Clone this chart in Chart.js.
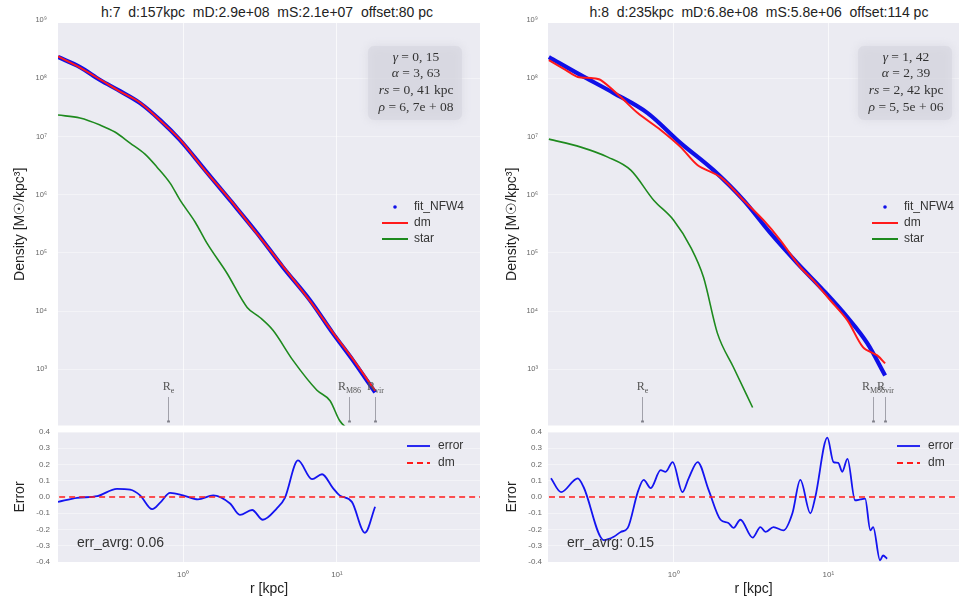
<!DOCTYPE html>
<html>
<head>
<meta charset="utf-8">
<title>Halo density profiles</title>
<script src="https://cdn.jsdelivr.net/npm/chart.js@4.4.1/dist/chart.umd.min.js"></script>
<style>
  html, body { margin: 0; padding: 0; background: #fff; }
  body { position: relative; width: 959px; height: 602px; overflow: hidden;
         font-family: "Liberation Sans", Arial, sans-serif; color: #222; }
  canvas { position: absolute; }
  .ttl { position: absolute; top: 4px; font-size: 14px; line-height: 17px; white-space: pre; transform: translateX(-50%); }
</style>
</head>
<body>
<div class="ttl" style="left:267px">h:7  d:157kpc  mD:2.9e+08  mS:2.1e+07  offset:80 pc</div>
<div class="ttl" style="left:759px">h:8  d:235kpc  mD:6.8e+08  mS:5.8e+06  offset:114 pc</div>
<canvas id="denL" width="480" height="430" style="left:0;top:0"></canvas>
<canvas id="errL" width="480" height="175" style="left:0;top:427px"></canvas>
<canvas id="denR" width="479" height="430" style="left:480px;top:0"></canvas>
<canvas id="errR" width="479" height="175" style="left:480px;top:427px"></canvas>

<script>
/* ── axis ticks ─────────────────────────────────────── */
const rTicks = [1, 10];
const rTickLabels = ['10⁰', '10¹'];
const densityTicks = [1e3, 1e4, 1e5, 1e6, 1e7, 1e8, 1e9];
const densityTickLabels = ['10³', '10⁴', '10⁵', '10⁶', '10⁷', '10⁸', '10⁹'];
const errTicks = [-0.4, -0.3, -0.2, -0.1, 0, 0.1, 0.2, 0.3, 0.4];

/* ── halo 7 ─────────────────────────────────────────── */
const h7R    = [0.154, 0.214, 0.289, 0.390, 0.526, 0.710, 0.957, 1.39, 2.02, 3.03, 4.46, 6.68, 9.42, 12.7, 17.7];
const h7Fit  = [2.31e8, 1.55e8, 9.3e7, 6.0e7, 3.74e7, 1.91e7, 8.65e6, 2.64e6, 8.05e5, 2.18e5, 5.68e4, 1.54e4, 4.16e3, 1.43e3, 4.03e2];
const h7Dm   = [2.36e8, 1.52e8, 9.5e7, 5.9e7, 3.8e7, 1.88e7, 8.8e6, 2.6e6, 8.2e5, 2.12e5, 5.9e4, 1.5e4, 4.3e3, 1.5e3, 4.3e2];
const h7StarR = [0.154, 0.214, 0.289, 0.361, 0.453, 0.566, 0.678, 0.824, 0.957, 1.20, 1.43, 1.93, 2.61, 3.16, 3.84, 5.18, 7.41, 9.02, 10.4, 12.5];
const h7Star  = [2.33e7, 2.07e7, 1.57e7, 1.19e7, 7.7e6, 4.97e6, 2.97e6, 1.58e6, 8.05e5, 3.37e5, 1.47e5, 4.48e4, 1.16e4, 7.8e3, 4.7e3, 1.43e3, 4.4e2, 2.9e2, 1.33e2, 8.3e1];
const h7ErrR = [0.154, 0.205, 0.277, 0.372, 0.453, 0.526, 0.630, 0.710, 0.824, 1.0, 1.25, 1.57, 2.02, 2.34, 2.81, 3.30, 4.07, 4.59, 5.58, 6.89, 8.0, 9.42, 10.4, 12.5, 15.2, 17.7];
const h7Err  = [-0.03, -0.005, 0.005, 0.05, 0.045, 0.01, -0.075, -0.035, 0.025, 0.01, -0.015, 0.01, -0.04, -0.11, -0.08, -0.14, -0.07, -0.005, 0.225, 0.11, 0.14, 0.055, 0.01, -0.03, -0.22, -0.06];
const h7Radii = [0.80, 12.0, 17.7];
const h7Params = ['0, 15', '3, 63', '0, 41', '6, 7e + 08'];
const h7ErrAvg = '0.06';

/* ── halo 8 ─────────────────────────────────────────── */
const h8FitR = [0.156, 0.251, 0.410, 0.679, 1.11, 1.81, 2.83, 4.23, 6.31, 9.29, 13.3, 17.9, 23.3];
const h8Fit  = [2.31e8, 1.13e8, 5.56e7, 2.52e7, 7.7e6, 2.64e6, 8.05e5, 2.18e5, 6.65e4, 2.28e4, 7.83e3, 2.8e3, 7.9e2];
const h8DmR  = [0.156, 0.201, 0.240, 0.292, 0.338, 0.455, 0.586, 0.824, 1.11, 1.43, 2.01, 2.83, 3.81, 4.90, 6.59, 8.00, 10.3, 13.3, 16.8, 20.7, 23.3];
const h8Dm   = [2.05e8, 1.38e8, 1.05e8, 1.01e8, 9.3e7, 4.74e7, 2.52e7, 1.29e7, 6.56e6, 3.21e6, 2.0e6, 8.05e5, 3.65e5, 1.65e5, 5.68e4, 3.39e4, 1.54e4, 6.97e3, 2.39e3, 1.74e3, 1.27e3];
const h8StarR = [0.156, 0.251, 0.375, 0.528, 0.743, 1.0, 1.29, 1.56, 1.92, 2.44, 3.24];
const h8Star  = [9.0e6, 6.56e6, 4.42e6, 2.64e6, 8.05e5, 3.65e5, 1.25e5, 3.82e4, 4.16e3, 1.08e3, 2.22e2];
const h8ErrR = [0.161, 0.187, 0.240, 0.262, 0.353, 0.410, 0.455, 0.505, 0.586, 0.640, 0.711, 0.824, 0.887, 0.986, 1.14, 1.25, 1.43, 1.68, 2.01, 2.26, 2.44, 2.70, 3.24, 3.64, 3.93, 4.42, 5.13, 5.86, 6.59, 7.66, 8.24, 9.86, 10.8, 11.6, 12.3, 13.3, 14.9, 16.1, 17.3, 18.7, 19.5, 21.6, 22.6, 24.0];
const h8Err  = [0.115, 0.03, 0.115, 0.06, -0.265, -0.245, -0.215, -0.19, 0.03, 0.105, 0.055, 0.165, 0.155, 0.215, 0.03, 0.115, 0.215, 0.045, -0.14, -0.16, -0.19, -0.14, -0.25, -0.185, -0.215, -0.185, -0.205, -0.1, 0.105, -0.1, 0.0, 0.365, 0.215, 0.21, 0.155, 0.235, -0.02, -0.015, -0.01, -0.205, -0.185, -0.39, -0.36, -0.38];
const h8Radii = [0.622, 19.5, 23.3];
const h8Params = ['1, 42', '2, 39', '2, 42', '5, 5e + 06'];
const h8ErrAvg = '0.15';

// dm reference line in the error panels
const zeroR = [0.1, 100];
const zeroErr = [0, 0];
const radiusSubs = ['e', 'M86', 'vir'];

const PLOT_BG = '#EBEBF2';
const GRID_X = 'rgba(255,255,255,0.7)';
const GRID_Y = 'rgba(255,255,255,0.4)';
const SANS = '"Liberation Sans", Arial, sans-serif';
const SERIF = '"Liberation Serif", "DejaVu Serif", serif';

const pairs = (xs, ys) => xs.map((x, i) => ({ x, y: ys[i] }));

/* ── canvas decorations ─────────────────────────────── */
function drawLegend(ctx, a, items) {
  ctx.save();
  ctx.font = '12px ' + SANS;
  ctx.textBaseline = 'middle';
  items.forEach(it => {
    const y = a.top + it.dy;
    if (it.kind === 'dot') {
      ctx.fillStyle = it.color;
      ctx.beginPath();
      ctx.arc(a.left + it.x0 + (it.x1 - it.x0) / 2, y, 1.8, 0, Math.PI * 2);
      ctx.fill();
    } else {
      ctx.strokeStyle = it.color;
      ctx.lineWidth = it.width || 2;
      ctx.setLineDash(it.kind === 'dash' ? [6, 4] : []);
      ctx.beginPath();
      ctx.moveTo(a.left + it.x0, y);
      ctx.lineTo(a.left + it.x1, y);
      ctx.stroke();
    }
    ctx.setLineDash([]);
    ctx.fillStyle = '#333';
    ctx.fillText(it.label, a.left + it.tx, y);
  });
  ctx.restore();
}

function drawParams(ctx, a, vals) {
  const names = ['γ', 'α', 'rs', 'ρ'];
  const units = ['', '', ' kpc', ''];
  const bx = a.left + 310, by = a.top + 23, bw = 94, bh = 74;
  ctx.save();
  ctx.fillStyle = 'rgba(214,214,222,0.55)';
  ctx.shadowColor = 'rgba(205,205,214,0.9)';
  ctx.shadowBlur = 8;
  ctx.beginPath();
  ctx.roundRect(bx, by, bw, bh, 6);
  ctx.fill();
  ctx.shadowBlur = 0;
  ctx.fillStyle = '#333';
  ctx.textBaseline = 'middle';
  const cx = a.left + 358;
  names.forEach((n, i) => {
    const y = a.top + 34 + i * 16.7;
    const rest = ' = ' + vals[i] + units[i];
    ctx.font = 'italic 13.5px ' + SERIF;
    const w1 = ctx.measureText(n).width;
    ctx.font = '13.5px ' + SERIF;
    const w2 = ctx.measureText(rest).width;
    const x0 = cx - (w1 + w2) / 2;
    ctx.font = 'italic 13.5px ' + SERIF;
    ctx.fillText(n, x0, y);
    ctx.font = '13.5px ' + SERIF;
    ctx.fillText(rest, x0 + w1, y);
  });
  ctx.restore();
}

function drawRadii(chart, radii) {
  const { ctx, chartArea: a, scales: { x } } = chart;
  ctx.save();
  radii.forEach((r, i) => {
    const px = Math.round(x.getPixelForValue(r)) + 0.5;
    ctx.font = '12px ' + SERIF;
    const w = ctx.measureText('R').width;
    ctx.font = '8px ' + SERIF;
    const sw = ctx.measureText(radiusSubs[i]).width;
    const x0 = px - (w + sw) / 2;
    ctx.fillStyle = '#555';
    ctx.textBaseline = 'alphabetic';
    ctx.font = '12px ' + SERIF;
    ctx.fillText('R', x0, a.top + 367);
    ctx.font = '8px ' + SERIF;
    ctx.fillText(radiusSubs[i], x0 + w, a.top + 370);
    ctx.strokeStyle = 'rgba(110,110,120,0.75)';
    ctx.lineWidth = 0.8;
    ctx.beginPath();
    ctx.moveTo(px, a.top + 374);
    ctx.lineTo(px, a.bottom - 4);
    ctx.stroke();
    ctx.fillStyle = 'rgba(110,110,120,0.8)';
    ctx.fillRect(px - 1.5, a.bottom - 5, 3, 2);
  });
  ctx.restore();
}

function decor(opts) {
  return {
    id: 'decor',
    beforeDraw(chart) {
      const { ctx, chartArea: a } = chart;
      ctx.save();
      ctx.fillStyle = PLOT_BG;
      ctx.fillRect(a.left, a.top, a.right - a.left, a.bottom - a.top);
      ctx.restore();
    },
    afterDatasetsDraw(chart) {
      const { ctx, chartArea: a } = chart;
      if (opts.radii) drawRadii(chart, opts.radii);
      if (opts.params) drawParams(ctx, a, opts.params);
      if (opts.legend) drawLegend(ctx, a, opts.legend);
      if (opts.note) {
        ctx.save();
        ctx.font = '14px ' + SANS;
        ctx.fillStyle = '#333';
        ctx.textBaseline = 'middle';
        ctx.fillText(opts.note, a.left + 19, a.top + 111);
        ctx.restore();
      }
    }
  };
}

const tickFont = { family: SANS, size: 8 };

function yTitle(text, pad) {
  return { display: true, text, color: '#222', font: { family: SANS, size: 14 }, padding: { top: pad, bottom: 0 } };
}

// invisible tick marks keep the labels off the plot without adding layout padding
function yGrid(color, gap) {
  return { color, drawTicks: true, tickLength: gap, tickColor: 'rgba(0,0,0,0)' };
}

/* ── density panel ──────────────────────────────────── */
function densityChart(id, o) {
  const topLegend = [
    { kind: 'dot', color: '#1010E8', x0: 324, x1: 350, tx: 356, dy: 184, label: 'fit_NFW4' },
    { kind: 'line', color: '#FF1A1A', x0: 324, x1: 350, tx: 356, dy: 200, label: 'dm' },
    { kind: 'line', color: '#1E8A1E', x0: 324, x1: 350, tx: 356, dy: 216, label: 'star' }
  ];
  return new Chart(document.getElementById(id), {
    type: 'line',
    data: {
      datasets: [
        { label: 'fit_NFW4', data: pairs(o.fitR, o.fit), borderColor: '#1010E8', borderWidth: 4.2,
          pointRadius: 0, cubicInterpolationMode: 'monotone', order: 3 },
        { label: 'dm', data: pairs(o.dmR, o.dm), borderColor: '#FF1A1A', borderWidth: 2,
          pointRadius: 0, tension: 0.3, order: 2 },
        { label: 'star', data: pairs(o.starR, o.star), borderColor: '#1E8A1E', borderWidth: 1.6,
          pointRadius: 0, cubicInterpolationMode: 'monotone', order: 1 }
      ]
    },
    options: {
      responsive: false, animation: false, events: [],
      layout: { padding: { top: 23, bottom: 0, left: 0, right: 0 } },
      plugins: { legend: { display: false }, tooltip: { enabled: false } },
      scales: {
        x: {
          type: 'logarithmic', min: 0.154, max: o.xMax,
          afterBuildTicks: s => { s.ticks = rTicks.map(v => ({ value: v })); },
          afterFit: s => { s.height = 0; },
          ticks: { display: false },
          grid: { color: GRID_X, drawTicks: false },
          border: { display: false }
        },
        y: {
          type: 'logarithmic', min: 109, max: 8.87e8,
          afterBuildTicks: s => { s.ticks = densityTicks.map(v => ({ value: v })); },
          afterFit: s => { s.width = o.yWidth; },
          ticks: {
            callback: v => densityTickLabels[densityTicks.indexOf(v)] || '',
            font: { family: SANS, size: 7.5 }, color: '#666', padding: 0, autoSkip: false
          },
          grid: yGrid(GRID_Y, o.tickPad),
          border: { display: false },
          title: yTitle('Density [M☉/kpc³]', o.titlePad)
        }
      }
    },
    plugins: [decor({ radii: o.radii, params: o.params, legend: topLegend })]
  });
}

/* ── error panel ────────────────────────────────────── */
function errorChart(id, o) {
  const errLegend = [
    { kind: 'line', color: '#1414F0', width: 1.8, x0: 349, x1: 372, tx: 380, dy: 14, label: 'error' },
    { kind: 'dash', color: '#FF1A1A', width: 1.8, x0: 349, x1: 372, tx: 380, dy: 31, label: 'dm' }
  ];
  return new Chart(document.getElementById(id), {
    type: 'line',
    data: {
      datasets: [
        { label: 'error', data: pairs(o.errR, o.err), borderColor: '#1414F0', borderWidth: 1.8,
          pointRadius: 0, cubicInterpolationMode: 'monotone', order: 2 },
        { label: 'dm', data: pairs(zeroR, zeroErr), borderColor: '#FF1A1A', borderWidth: 1.7,
          borderDash: [6, 4], pointRadius: 0, order: 1 }
      ]
    },
    options: {
      responsive: false, animation: false, events: [],
      layout: { padding: { top: 5, bottom: 0, left: 0, right: 0 } },
      plugins: { legend: { display: false }, tooltip: { enabled: false } },
      scales: {
        x: {
          type: 'logarithmic', min: 0.154, max: o.xMax,
          afterBuildTicks: s => { s.ticks = rTicks.map(v => ({ value: v })); },
          afterFit: s => { s.height = 40; },
          ticks: {
            callback: v => rTickLabels[rTicks.indexOf(v)] || '',
            font: tickFont, color: '#666', padding: 8, autoSkip: false, maxRotation: 0
          },
          grid: { color: GRID_X, drawTicks: false },
          border: { display: false },
          title: { display: true, text: 'r [kpc]', color: '#222', font: { family: SANS, size: 14 }, padding: { top: 0, bottom: 4 } }
        },
        y: {
          min: -0.4, max: 0.4,
          afterBuildTicks: s => { s.ticks = errTicks.map(v => ({ value: v })); },
          afterFit: s => { s.width = o.yWidth; },
          ticks: { callback: v => v.toFixed(1), font: tickFont, color: '#666', padding: 0, autoSkip: false },
          grid: yGrid(GRID_Y, o.tickPad),
          border: { display: false },
          title: yTitle('Error', o.titlePad)
        }
      }
    },
    plugins: [decor({ legend: errLegend, note: 'err_avrg: ' + o.avg })]
  });
}

densityChart('denL', {
  fitR: h7R, fit: h7Fit, dmR: h7R, dm: h7Dm, starR: h7StarR, star: h7Star,
  radii: h7Radii, params: h7Params, xMax: 85, yWidth: 58, tickPad: 11, titlePad: 11.6
});
densityChart('denR', {
  fitR: h8FitR, fit: h8Fit, dmR: h8DmR, dm: h8Dm, starR: h8StarR, star: h8Star,
  radii: h8Radii, params: h8Params, xMax: 70, yWidth: 68, tickPad: 10, titlePad: 23.6
});
errorChart('errL', { errR: h7ErrR, err: h7Err, avg: h7ErrAvg, xMax: 85, yWidth: 58, tickPad: 8, titlePad: 11.6 });
errorChart('errR', { errR: h8ErrR, err: h8Err, avg: h8ErrAvg, xMax: 70, yWidth: 68, tickPad: 6, titlePad: 23.6 });
</script>
</body>
</html>
